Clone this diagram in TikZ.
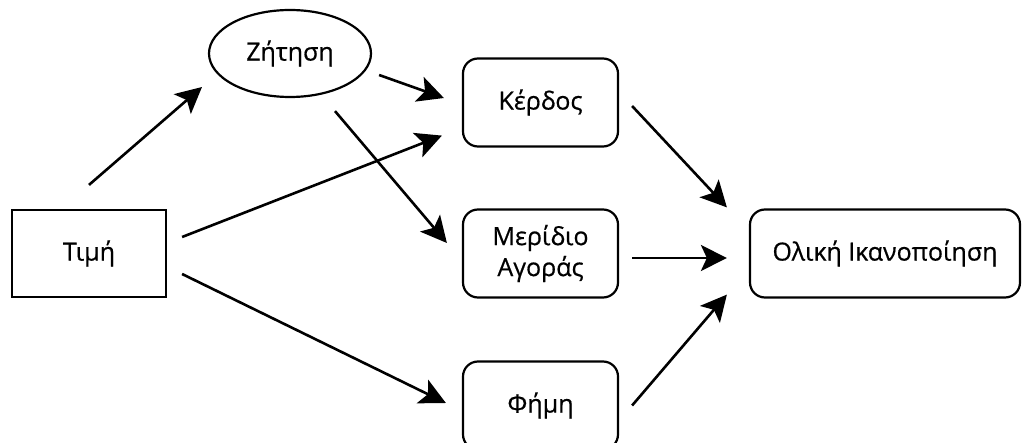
\documentclass[tikz,border=0pt]{standalone}
\usepackage{fontspec}
\setmainfont[UprightFeatures={FakeBold=0.6}]{Open Sans}
\usetikzlibrary{arrows.meta,shapes.geometric}
\begin{document}
\begin{tikzpicture}[x=1pt,y=-1pt,
  every node/.style={font=\fontsize{25}{31}\selectfont, inner sep=0pt, align=center},
  sharpbox/.style={draw, line width=2.2pt, minimum width=154pt, minimum height=87pt},
  roundbox/.style={draw, line width=2.2pt, rounded corners=15pt, minimum height=88pt},
  oval/.style={draw, ellipse, line width=2.2pt, minimum width=162pt, minimum height=87pt},
  arr/.style={line width=2.6pt, -{Stealth[length=26pt, width=26pt, inset=6pt]}}
]
\useasboundingbox (0,0) rectangle (1023,443);
\clip (0,0) rectangle (1023,443);

% nodes
\node[sharpbox] (timi) at (89,253.5) {Τιμή};
\node[oval] (zitisi) at (290,53.5) {Ζήτηση};
\node[roundbox, minimum width=155pt] (kerdos) at (540.5,102.5) {Κέρδος};
\node[roundbox, minimum width=155pt] (meridio) at (540.5,253.5) {Μερίδιο\\Αγοράς};
\node[roundbox, minimum width=155pt] (fimi) at (540.5,405.5) {Φήμη};
\node[roundbox, minimum width=270pt] (oliki) at (885,253.5) {Ολική Ικανοποίηση};

% connectors
\draw[arr] ([shift={(0,-24)}]timi.north) -- ([shift={(-88,33.5)}]zitisi.center);
\draw[arr] ([shift={(7,21.5)}]zitisi.east) -- ([shift={(-18,-4.5)}]kerdos.west);
\draw[arr] ([shift={(45,13)}]zitisi.south) -- ([shift={(-15,-10.5)}]meridio.west);
\draw[arr] ([shift={(15,-16.5)}]timi.east) -- ([shift={(-20,-12)}]kerdos.south west);
\draw[arr] ([shift={(15,20.5)}]timi.east) -- ([shift={(-16,-2.5)}]fimi.west);
\draw[arr] ([shift={(13,3.5)}]kerdos.east) -- ([shift={(-22,-1)}]oliki.north west);
\draw[arr] ([shift={(13,4.5)}]meridio.east) -- ([shift={(-22,4.5)}]oliki.west);
\draw[arr] ([shift={(13,0)}]fimi.east) -- ([shift={(-22,-4)}]oliki.south west);
\end{tikzpicture}
\end{document}
